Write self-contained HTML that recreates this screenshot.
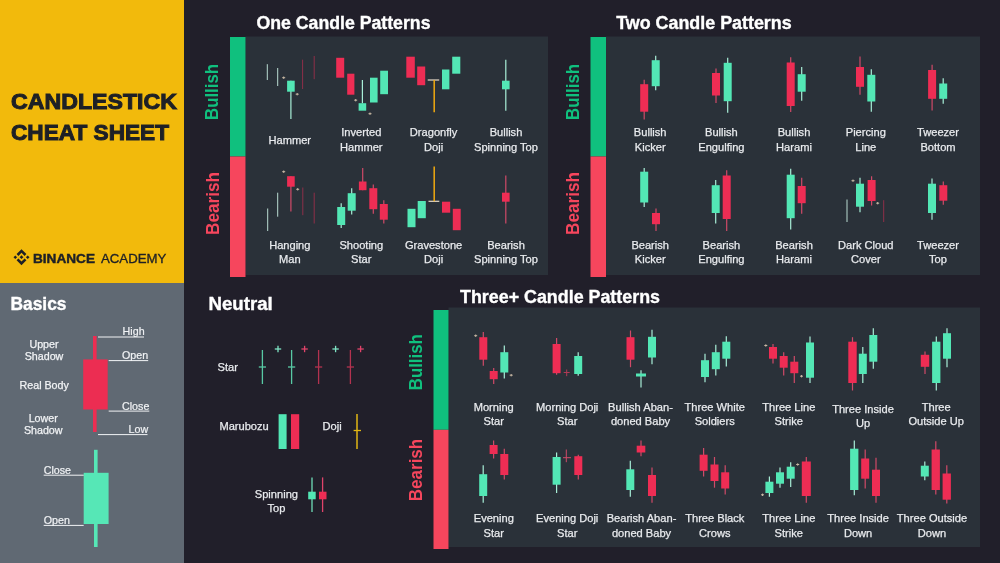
<!DOCTYPE html>
<html lang="en"><head><meta charset="utf-8"><title>Candlestick Cheat Sheet</title>
<style>
html,body{margin:0;padding:0;background:#211F2A;}
body{width:1000px;height:563px;overflow:hidden;}
svg{display:block;font-family:"Liberation Sans",sans-serif;}
</style></head><body>
<svg width="1000" height="563" viewBox="0 0 1000 563">
<rect width="1000" height="563" fill="#211F2A"/>
<rect x="0.0" y="0.0" width="184.0" height="283.0" fill="#F2BA0C" />
<rect x="0.0" y="283.0" width="184.0" height="280.0" fill="#606973" />
<rect x="245.5" y="36.5" width="302.5" height="238.5" fill="#2A3139" />
<rect x="606.0" y="36.5" width="374.0" height="238.5" fill="#2A3139" />
<rect x="448.5" y="307.5" width="531.5" height="239.5" fill="#2A3139" />
<rect x="230.0" y="37.0" width="15.5" height="119.5" fill="#10C07E" />
<rect x="230.0" y="156.5" width="15.5" height="120.5" fill="#F6465D" />
<rect x="590.5" y="37.0" width="15.5" height="119.5" fill="#10C07E" />
<rect x="590.5" y="156.5" width="15.5" height="120.5" fill="#F6465D" />
<rect x="433.5" y="310.0" width="15.0" height="119.8" fill="#10C07E" />
<rect x="433.5" y="429.8" width="15.0" height="119.2" fill="#F6465D" />
<text transform="translate(218.0,92.0) rotate(-90)" font-size="17.5" font-weight="700" fill="#10C07E" text-anchor="middle" textLength="56" lengthAdjust="spacingAndGlyphs">Bullish</text>
<text transform="translate(218.5,203.5) rotate(-90)" font-size="17.5" font-weight="700" fill="#F6465D" text-anchor="middle" textLength="63" lengthAdjust="spacingAndGlyphs">Bearish</text>
<text transform="translate(578.5,92.0) rotate(-90)" font-size="17.5" font-weight="700" fill="#10C07E" text-anchor="middle" textLength="56" lengthAdjust="spacingAndGlyphs">Bullish</text>
<text transform="translate(579.0,203.5) rotate(-90)" font-size="17.5" font-weight="700" fill="#F6465D" text-anchor="middle" textLength="63" lengthAdjust="spacingAndGlyphs">Bearish</text>
<text transform="translate(422.0,362.2) rotate(-90)" font-size="17.5" font-weight="700" fill="#10C07E" text-anchor="middle" textLength="56" lengthAdjust="spacingAndGlyphs">Bullish</text>
<text transform="translate(422.0,470.0) rotate(-90)" font-size="17.5" font-weight="700" fill="#F6465D" text-anchor="middle" textLength="62.5" lengthAdjust="spacingAndGlyphs">Bearish</text>
<text x="256.5" y="29.0" font-size="17.5" font-weight="700" fill="#FFFFFF" stroke="#FFFFFF" stroke-width="0.35" textLength="174" lengthAdjust="spacingAndGlyphs">One Candle Patterns</text>
<text x="616.2" y="29.0" font-size="17.5" font-weight="700" fill="#FFFFFF" stroke="#FFFFFF" stroke-width="0.35" textLength="175.5" lengthAdjust="spacingAndGlyphs">Two Candle Patterns</text>
<text x="460.0" y="303.0" font-size="17.5" font-weight="700" fill="#FFFFFF" stroke="#FFFFFF" stroke-width="0.35" textLength="200" lengthAdjust="spacingAndGlyphs">Three+ Candle Patterns</text>
<text x="208.5" y="310.0" font-size="17.5" font-weight="700" fill="#FFFFFF" stroke="#FFFFFF" stroke-width="0.35" textLength="64.3" lengthAdjust="spacingAndGlyphs">Neutral</text>
<text x="10.5" y="310.0" font-size="17.5" font-weight="700" fill="#FFFFFF" stroke="#FFFFFF" stroke-width="0.35" textLength="56" lengthAdjust="spacingAndGlyphs">Basics</text>
<text x="11" y="109" font-size="22.4" font-weight="700" fill="#1E2026" stroke="#1E2026" stroke-width="1.0" textLength="166" lengthAdjust="spacingAndGlyphs">CANDLESTICK</text>
<text x="11" y="140" font-size="22.4" font-weight="700" fill="#1E2026" stroke="#1E2026" stroke-width="1.0" textLength="158" lengthAdjust="spacingAndGlyphs">CHEAT SHEET</text>
<text x="33" y="262.8" font-size="12" font-weight="700" fill="#1E2026" stroke="#1E2026" stroke-width="0.4" textLength="62" lengthAdjust="spacingAndGlyphs">BINANCE</text>
<text x="101" y="262.8" font-size="12" font-weight="400" fill="#1E2026" stroke="#1E2026" stroke-width="0.3" textLength="65.4" lengthAdjust="spacingAndGlyphs">ACADEMY</text>
<g transform="translate(21.5,257.2)" fill="#1E2026"><path d="M0,-8 L4.9,-3.1 L3.1,-1.3 L0,-4.4 L-3.1,-1.3 L-4.9,-3.1 Z"/><path d="M0,8 L4.9,3.1 L3.1,1.3 L0,4.4 L-3.1,1.3 L-4.9,3.1 Z"/><path d="M0,-1.9 L1.9,0 L0,1.9 L-1.9,0 Z"/><path d="M-6.2,-1.8 L-4.4,0 L-6.2,1.8 L-8,0 Z"/><path d="M6.2,-1.8 L8,0 L6.2,1.8 L4.4,0 Z"/></g>
<line x1="267.3" y1="64.2" x2="267.3" y2="80.0" stroke="#B9DCD2" stroke-width="1" />
<line x1="277.7" y1="68.0" x2="277.7" y2="86.0" stroke="#B9DCD2" stroke-width="1" />
<line x1="282.2" y1="77.7" x2="285.2" y2="77.7" stroke="#C9B9A4" stroke-width="1" />
<line x1="283.7" y1="76.5" x2="283.7" y2="78.9" stroke="#C9B9A4" stroke-width="1" />
<line x1="290.9" y1="80.7" x2="290.9" y2="119.0" stroke="#A8EFD8" stroke-width="1.2" />
<rect x="287.1" y="80.7" width="7.6" height="11.0" fill="#53E7B5" />
<line x1="295.7" y1="94.2" x2="298.7" y2="94.2" stroke="#C9B9A4" stroke-width="1" />
<line x1="297.2" y1="93.0" x2="297.2" y2="95.4" stroke="#C9B9A4" stroke-width="1" />
<line x1="302.6" y1="59.7" x2="302.6" y2="89.0" stroke="#8E2F49" stroke-width="1" />
<line x1="314.2" y1="56.0" x2="314.2" y2="79.2" stroke="#8E2F49" stroke-width="1" />
<rect x="336.2" y="57.8" width="8.0" height="19.9" fill="#EE2D54" />
<rect x="347.2" y="73.7" width="7.2" height="21.0" fill="#EE2D54" />
<line x1="354.2" y1="100.2" x2="357.2" y2="100.2" stroke="#C9B9A4" stroke-width="1" />
<line x1="355.7" y1="99.0" x2="355.7" y2="101.4" stroke="#C9B9A4" stroke-width="1" />
<line x1="362.4" y1="80.0" x2="362.4" y2="103.2" stroke="#A8EFD8" stroke-width="1.2" />
<rect x="358.6" y="103.2" width="7.6" height="7.5" fill="#53E7B5" />
<line x1="368.5" y1="113.7" x2="371.5" y2="113.7" stroke="#C9B9A4" stroke-width="1" />
<line x1="370.0" y1="112.5" x2="370.0" y2="114.9" stroke="#C9B9A4" stroke-width="1" />
<rect x="370.0" y="77.7" width="7.6" height="24.8" fill="#53E7B5" />
<rect x="380.2" y="70.7" width="7.8" height="23.5" fill="#53E7B5" />
<rect x="406.3" y="56.7" width="8.5" height="21.0" fill="#EE2D54" />
<rect x="417.2" y="66.5" width="8.0" height="18.7" fill="#EE2D54" />
<line x1="427.7" y1="80.0" x2="439.2" y2="80.0" stroke="#E8DCC8" stroke-width="1.2" />
<line x1="434.2" y1="80.0" x2="434.2" y2="112.2" stroke="#F0A90F" stroke-width="1.5" />
<rect x="442.0" y="69.5" width="7.4" height="19.8" fill="#53E7B5" />
<rect x="452.2" y="56.7" width="8.1" height="17.0" fill="#53E7B5" />
<line x1="505.8" y1="59.7" x2="505.8" y2="110.7" stroke="#A8EFD8" stroke-width="1.2" />
<rect x="502.0" y="80.7" width="7.6" height="8.6" fill="#53E7B5" />
<line x1="267.7" y1="208.5" x2="267.7" y2="231.0" stroke="#B9DCD2" stroke-width="1" />
<line x1="277.7" y1="192.7" x2="277.7" y2="216.7" stroke="#B9DCD2" stroke-width="1" />
<line x1="282.2" y1="171.7" x2="285.2" y2="171.7" stroke="#C9B9A4" stroke-width="1" />
<line x1="283.7" y1="170.5" x2="283.7" y2="172.9" stroke="#C9B9A4" stroke-width="1" />
<line x1="290.9" y1="176.2" x2="290.9" y2="211.5" stroke="#D04A68" stroke-width="1.2" />
<rect x="287.1" y="176.2" width="7.6" height="10.5" fill="#EE2D54" />
<line x1="296.2" y1="189.3" x2="299.2" y2="189.3" stroke="#C9B9A4" stroke-width="1" />
<line x1="297.7" y1="188.1" x2="297.7" y2="190.5" stroke="#C9B9A4" stroke-width="1" />
<line x1="302.8" y1="187.5" x2="302.8" y2="215.2" stroke="#8E2F49" stroke-width="1" />
<line x1="314.2" y1="192.7" x2="314.2" y2="223.5" stroke="#8E2F49" stroke-width="1" />
<line x1="341.2" y1="203.2" x2="341.2" y2="228.0" stroke="#A8EFD8" stroke-width="1.2" />
<rect x="337.2" y="207.0" width="8.0" height="18.0" fill="#53E7B5" />
<line x1="351.7" y1="188.2" x2="351.7" y2="214.5" stroke="#A8EFD8" stroke-width="1.2" />
<rect x="347.7" y="193.2" width="8.0" height="17.5" fill="#53E7B5" />
<line x1="362.7" y1="168.0" x2="362.7" y2="190.2" stroke="#D04A68" stroke-width="1.2" />
<rect x="358.9" y="181.5" width="7.6" height="8.7" fill="#EE2D54" />
<line x1="373.3" y1="184.5" x2="373.3" y2="213.7" stroke="#D04A68" stroke-width="1.2" />
<rect x="369.3" y="188.2" width="8.0" height="21.0" fill="#EE2D54" />
<line x1="383.8" y1="200.2" x2="383.8" y2="223.5" stroke="#D04A68" stroke-width="1.2" />
<rect x="379.8" y="204.0" width="8.0" height="15.7" fill="#EE2D54" />
<rect x="407.5" y="208.8" width="8.0" height="18.4" fill="#53E7B5" />
<rect x="417.7" y="201.0" width="8.1" height="17.2" fill="#53E7B5" />
<line x1="428.5" y1="201.3" x2="439.3" y2="201.3" stroke="#E8DCC8" stroke-width="1.2" />
<line x1="434.2" y1="166.5" x2="434.2" y2="201.3" stroke="#F0A90F" stroke-width="1.5" />
<rect x="442.0" y="201.7" width="8.2" height="11.0" fill="#EE2D54" />
<rect x="452.8" y="208.8" width="7.9" height="21.4" fill="#EE2D54" />
<line x1="505.8" y1="175.5" x2="505.8" y2="223.5" stroke="#D04A68" stroke-width="1.2" />
<rect x="502.0" y="192.7" width="7.6" height="9.0" fill="#EE2D54" />
<text x="289.8" y="143.6" font-size="11.1" text-anchor="middle" fill="#E9EBEE" font-weight="400" stroke="#E9EBEE" stroke-width="0.25" >Hammer</text>
<text x="361.3" y="135.7" font-size="11.1" text-anchor="middle" fill="#E9EBEE" font-weight="400" stroke="#E9EBEE" stroke-width="0.25" >Inverted</text>
<text x="361.3" y="150.5" font-size="11.1" text-anchor="middle" fill="#E9EBEE" font-weight="400" stroke="#E9EBEE" stroke-width="0.25" >Hammer</text>
<text x="433.6" y="135.7" font-size="11.1" text-anchor="middle" fill="#E9EBEE" font-weight="400" stroke="#E9EBEE" stroke-width="0.25" >Dragonfly</text>
<text x="433.6" y="150.5" font-size="11.1" text-anchor="middle" fill="#E9EBEE" font-weight="400" stroke="#E9EBEE" stroke-width="0.25" >Doji</text>
<text x="506.0" y="135.7" font-size="11.1" text-anchor="middle" fill="#E9EBEE" font-weight="400" stroke="#E9EBEE" stroke-width="0.25" >Bullish</text>
<text x="506.0" y="150.5" font-size="11.1" text-anchor="middle" fill="#E9EBEE" font-weight="400" stroke="#E9EBEE" stroke-width="0.25" >Spinning Top</text>
<text x="289.8" y="248.7" font-size="11.1" text-anchor="middle" fill="#E9EBEE" font-weight="400" stroke="#E9EBEE" stroke-width="0.25" >Hanging</text>
<text x="289.8" y="263.2" font-size="11.1" text-anchor="middle" fill="#E9EBEE" font-weight="400" stroke="#E9EBEE" stroke-width="0.25" >Man</text>
<text x="361.3" y="248.7" font-size="11.1" text-anchor="middle" fill="#E9EBEE" font-weight="400" stroke="#E9EBEE" stroke-width="0.25" >Shooting</text>
<text x="361.3" y="263.2" font-size="11.1" text-anchor="middle" fill="#E9EBEE" font-weight="400" stroke="#E9EBEE" stroke-width="0.25" >Star</text>
<text x="433.6" y="248.7" font-size="11.1" text-anchor="middle" fill="#E9EBEE" font-weight="400" stroke="#E9EBEE" stroke-width="0.25" >Gravestone</text>
<text x="433.6" y="263.2" font-size="11.1" text-anchor="middle" fill="#E9EBEE" font-weight="400" stroke="#E9EBEE" stroke-width="0.25" >Doji</text>
<text x="506.0" y="248.7" font-size="11.1" text-anchor="middle" fill="#E9EBEE" font-weight="400" stroke="#E9EBEE" stroke-width="0.25" >Bearish</text>
<text x="506.0" y="263.2" font-size="11.1" text-anchor="middle" fill="#E9EBEE" font-weight="400" stroke="#E9EBEE" stroke-width="0.25" >Spinning Top</text>
<line x1="644.2" y1="79.7" x2="644.2" y2="119.5" stroke="#D04A68" stroke-width="1.2" />
<rect x="640.2" y="84.2" width="8.0" height="27.5" fill="#EE2D54" />
<line x1="655.7" y1="55.7" x2="655.7" y2="90.2" stroke="#A8EFD8" stroke-width="1.2" />
<rect x="651.7" y="60.2" width="8.0" height="26.0" fill="#53E7B5" />
<line x1="716.0" y1="68.5" x2="716.0" y2="103.0" stroke="#D04A68" stroke-width="1.2" />
<rect x="712.0" y="73.0" width="8.0" height="22.5" fill="#EE2D54" />
<line x1="727.7" y1="57.7" x2="727.7" y2="112.7" stroke="#A8EFD8" stroke-width="1.2" />
<rect x="723.7" y="62.8" width="8.0" height="38.4" fill="#53E7B5" />
<line x1="790.7" y1="57.2" x2="790.7" y2="112.0" stroke="#D04A68" stroke-width="1.2" />
<rect x="786.7" y="62.5" width="8.0" height="43.5" fill="#EE2D54" />
<line x1="801.7" y1="67.0" x2="801.7" y2="100.7" stroke="#A8EFD8" stroke-width="1.2" />
<rect x="797.7" y="74.2" width="8.0" height="17.5" fill="#53E7B5" />
<line x1="860.0" y1="56.5" x2="860.0" y2="94.7" stroke="#D04A68" stroke-width="1.2" />
<rect x="856.0" y="67.0" width="8.0" height="19.8" fill="#EE2D54" />
<line x1="871.3" y1="69.2" x2="871.3" y2="111.7" stroke="#A8EFD8" stroke-width="1.2" />
<rect x="867.3" y="74.8" width="8.0" height="26.7" fill="#53E7B5" />
<line x1="932.1" y1="64.7" x2="932.1" y2="110.5" stroke="#D04A68" stroke-width="1.2" />
<rect x="928.1" y="70.0" width="8.0" height="28.8" fill="#EE2D54" />
<line x1="943.2" y1="78.2" x2="943.2" y2="103.7" stroke="#A8EFD8" stroke-width="1.2" />
<rect x="939.2" y="83.5" width="8.0" height="15.3" fill="#53E7B5" />
<line x1="644.2" y1="168.0" x2="644.2" y2="207.0" stroke="#A8EFD8" stroke-width="1.2" />
<rect x="640.2" y="171.7" width="8.0" height="30.8" fill="#53E7B5" />
<line x1="656.0" y1="208.5" x2="656.0" y2="231.0" stroke="#D04A68" stroke-width="1.2" />
<rect x="652.0" y="213.0" width="8.0" height="11.2" fill="#EE2D54" />
<line x1="715.7" y1="180.0" x2="715.7" y2="223.5" stroke="#A8EFD8" stroke-width="1.2" />
<rect x="711.7" y="185.2" width="8.0" height="27.8" fill="#53E7B5" />
<line x1="726.7" y1="170.2" x2="726.7" y2="231.0" stroke="#D04A68" stroke-width="1.2" />
<rect x="722.7" y="175.5" width="8.0" height="43.5" fill="#EE2D54" />
<line x1="790.7" y1="168.7" x2="790.7" y2="229.5" stroke="#A8EFD8" stroke-width="1.2" />
<rect x="786.7" y="174.7" width="8.0" height="43.5" fill="#53E7B5" />
<line x1="801.7" y1="177.7" x2="801.7" y2="213.7" stroke="#D04A68" stroke-width="1.2" />
<rect x="797.7" y="186.0" width="8.0" height="17.2" fill="#EE2D54" />
<line x1="847.0" y1="199.5" x2="847.0" y2="222.0" stroke="#B9DCD2" stroke-width="1" />
<line x1="851.5" y1="180.7" x2="854.5" y2="180.7" stroke="#C9B9A4" stroke-width="1" />
<line x1="853.0" y1="179.5" x2="853.0" y2="181.9" stroke="#C9B9A4" stroke-width="1" />
<line x1="860.0" y1="177.7" x2="860.0" y2="212.2" stroke="#A8EFD8" stroke-width="1.2" />
<rect x="856.0" y="183.7" width="8.0" height="23.0" fill="#53E7B5" />
<line x1="871.6" y1="176.2" x2="871.6" y2="205.5" stroke="#D04A68" stroke-width="1.2" />
<rect x="867.6" y="180.0" width="8.0" height="21.0" fill="#EE2D54" />
<line x1="876.2" y1="203.2" x2="879.2" y2="203.2" stroke="#C9B9A4" stroke-width="1" />
<line x1="877.7" y1="202.0" x2="877.7" y2="204.4" stroke="#C9B9A4" stroke-width="1" />
<line x1="883.7" y1="200.2" x2="883.7" y2="222.0" stroke="#8E2F49" stroke-width="1" />
<line x1="932.0" y1="178.5" x2="932.0" y2="219.7" stroke="#A8EFD8" stroke-width="1.2" />
<rect x="928.0" y="183.7" width="8.0" height="29.3" fill="#53E7B5" />
<line x1="943.3" y1="181.5" x2="943.3" y2="204.7" stroke="#D04A68" stroke-width="1.2" />
<rect x="939.3" y="185.2" width="8.0" height="15.5" fill="#EE2D54" />
<text x="650.2" y="135.7" font-size="11.1" text-anchor="middle" fill="#E9EBEE" font-weight="400" stroke="#E9EBEE" stroke-width="0.25" >Bullish</text>
<text x="650.2" y="150.5" font-size="11.1" text-anchor="middle" fill="#E9EBEE" font-weight="400" stroke="#E9EBEE" stroke-width="0.25" >Kicker</text>
<text x="721.4" y="135.7" font-size="11.1" text-anchor="middle" fill="#E9EBEE" font-weight="400" stroke="#E9EBEE" stroke-width="0.25" >Bullish</text>
<text x="721.4" y="150.5" font-size="11.1" text-anchor="middle" fill="#E9EBEE" font-weight="400" stroke="#E9EBEE" stroke-width="0.25" >Engulfing</text>
<text x="794.0" y="135.7" font-size="11.1" text-anchor="middle" fill="#E9EBEE" font-weight="400" stroke="#E9EBEE" stroke-width="0.25" >Bullish</text>
<text x="794.0" y="150.5" font-size="11.1" text-anchor="middle" fill="#E9EBEE" font-weight="400" stroke="#E9EBEE" stroke-width="0.25" >Harami</text>
<text x="865.8" y="135.7" font-size="11.1" text-anchor="middle" fill="#E9EBEE" font-weight="400" stroke="#E9EBEE" stroke-width="0.25" >Piercing</text>
<text x="865.8" y="150.5" font-size="11.1" text-anchor="middle" fill="#E9EBEE" font-weight="400" stroke="#E9EBEE" stroke-width="0.25" >Line</text>
<text x="938.0" y="135.7" font-size="11.1" text-anchor="middle" fill="#E9EBEE" font-weight="400" stroke="#E9EBEE" stroke-width="0.25" >Tweezer</text>
<text x="938.0" y="150.5" font-size="11.1" text-anchor="middle" fill="#E9EBEE" font-weight="400" stroke="#E9EBEE" stroke-width="0.25" >Bottom</text>
<text x="650.2" y="248.7" font-size="11.1" text-anchor="middle" fill="#E9EBEE" font-weight="400" stroke="#E9EBEE" stroke-width="0.25" >Bearish</text>
<text x="650.2" y="263.2" font-size="11.1" text-anchor="middle" fill="#E9EBEE" font-weight="400" stroke="#E9EBEE" stroke-width="0.25" >Kicker</text>
<text x="721.4" y="248.7" font-size="11.1" text-anchor="middle" fill="#E9EBEE" font-weight="400" stroke="#E9EBEE" stroke-width="0.25" >Bearish</text>
<text x="721.4" y="263.2" font-size="11.1" text-anchor="middle" fill="#E9EBEE" font-weight="400" stroke="#E9EBEE" stroke-width="0.25" >Engulfing</text>
<text x="794.0" y="248.7" font-size="11.1" text-anchor="middle" fill="#E9EBEE" font-weight="400" stroke="#E9EBEE" stroke-width="0.25" >Bearish</text>
<text x="794.0" y="263.2" font-size="11.1" text-anchor="middle" fill="#E9EBEE" font-weight="400" stroke="#E9EBEE" stroke-width="0.25" >Harami</text>
<text x="865.8" y="248.7" font-size="11.1" text-anchor="middle" fill="#E9EBEE" font-weight="400" stroke="#E9EBEE" stroke-width="0.25" >Dark Cloud</text>
<text x="865.8" y="263.2" font-size="11.1" text-anchor="middle" fill="#E9EBEE" font-weight="400" stroke="#E9EBEE" stroke-width="0.25" >Cover</text>
<text x="938.0" y="248.7" font-size="11.1" text-anchor="middle" fill="#E9EBEE" font-weight="400" stroke="#E9EBEE" stroke-width="0.25" >Tweezer</text>
<text x="938.0" y="263.2" font-size="11.1" text-anchor="middle" fill="#E9EBEE" font-weight="400" stroke="#E9EBEE" stroke-width="0.25" >Top</text>
<line x1="474.2" y1="335.7" x2="477.2" y2="335.7" stroke="#C9B9A4" stroke-width="1" />
<line x1="475.7" y1="334.5" x2="475.7" y2="336.9" stroke="#C9B9A4" stroke-width="1" />
<line x1="483.3" y1="332.0" x2="483.3" y2="365.7" stroke="#D04A68" stroke-width="1.2" />
<rect x="479.3" y="337.2" width="8.0" height="22.5" fill="#EE2D54" />
<line x1="493.7" y1="368.0" x2="493.7" y2="384.0" stroke="#D04A68" stroke-width="1.2" />
<rect x="489.7" y="371.0" width="8.0" height="8.2" fill="#EE2D54" />
<line x1="504.3" y1="345.5" x2="504.3" y2="378.5" stroke="#A8EFD8" stroke-width="1.2" />
<rect x="500.3" y="352.2" width="8.0" height="20.3" fill="#53E7B5" />
<line x1="509.7" y1="375.2" x2="512.7" y2="375.2" stroke="#C9B9A4" stroke-width="1" />
<line x1="511.2" y1="374.0" x2="511.2" y2="376.4" stroke="#C9B9A4" stroke-width="1" />
<line x1="556.6" y1="338.0" x2="556.6" y2="374.7" stroke="#D04A68" stroke-width="1.2" />
<rect x="552.6" y="344.0" width="8.0" height="29.2" fill="#EE2D54" />
<line x1="563.7" y1="372.5" x2="569.7" y2="372.5" stroke="#B03A55" stroke-width="1" />
<line x1="566.7" y1="369.5" x2="566.7" y2="376.2" stroke="#B03A55" stroke-width="1" />
<line x1="578.2" y1="352.2" x2="578.2" y2="375.8" stroke="#A8EFD8" stroke-width="1.2" />
<rect x="574.2" y="356.0" width="8.0" height="18.0" fill="#53E7B5" />
<line x1="630.5" y1="330.5" x2="630.5" y2="367.2" stroke="#D04A68" stroke-width="1.2" />
<rect x="626.5" y="337.2" width="8.0" height="22.5" fill="#EE2D54" />
<line x1="641.0" y1="370.2" x2="641.0" y2="387.5" stroke="#A8EFD8" stroke-width="1.2" />
<rect x="636.0" y="373.5" width="10.0" height="3.0" fill="#53E7B5" />
<line x1="652.0" y1="329.7" x2="652.0" y2="364.2" stroke="#A8EFD8" stroke-width="1.2" />
<rect x="648.0" y="336.8" width="8.0" height="20.7" fill="#53E7B5" />
<line x1="705.0" y1="353.7" x2="705.0" y2="382.2" stroke="#A8EFD8" stroke-width="1.2" />
<rect x="701.0" y="360.2" width="8.0" height="16.8" fill="#53E7B5" />
<line x1="715.8" y1="344.7" x2="715.8" y2="375.5" stroke="#A8EFD8" stroke-width="1.2" />
<rect x="711.8" y="352.2" width="8.0" height="17.0" fill="#53E7B5" />
<line x1="726.3" y1="336.2" x2="726.3" y2="366.5" stroke="#A8EFD8" stroke-width="1.2" />
<rect x="722.3" y="341.7" width="8.0" height="17.0" fill="#53E7B5" />
<line x1="764.3" y1="345.5" x2="767.3" y2="345.5" stroke="#C9B9A4" stroke-width="1" />
<line x1="765.8" y1="344.3" x2="765.8" y2="346.7" stroke="#C9B9A4" stroke-width="1" />
<line x1="773.0" y1="344.0" x2="773.0" y2="363.5" stroke="#D04A68" stroke-width="1.2" />
<rect x="769.0" y="347.0" width="8.0" height="11.7" fill="#EE2D54" />
<line x1="783.7" y1="352.2" x2="783.7" y2="375.5" stroke="#D04A68" stroke-width="1.2" />
<rect x="779.7" y="356.0" width="8.0" height="11.7" fill="#EE2D54" />
<line x1="794.3" y1="356.0" x2="794.3" y2="383.0" stroke="#D04A68" stroke-width="1.2" />
<rect x="790.3" y="361.7" width="8.0" height="11.5" fill="#EE2D54" />
<line x1="800.0" y1="376.2" x2="803.0" y2="376.2" stroke="#C9B9A4" stroke-width="1" />
<line x1="801.5" y1="375.0" x2="801.5" y2="377.4" stroke="#C9B9A4" stroke-width="1" />
<line x1="810.0" y1="336.5" x2="810.0" y2="383.0" stroke="#A8EFD8" stroke-width="1.2" />
<rect x="806.0" y="342.5" width="8.0" height="35.2" fill="#53E7B5" />
<line x1="852.5" y1="337.2" x2="852.5" y2="390.5" stroke="#D04A68" stroke-width="1.2" />
<rect x="848.3" y="341.7" width="8.4" height="41.3" fill="#EE2D54" />
<line x1="862.8" y1="347.0" x2="862.8" y2="383.0" stroke="#A8EFD8" stroke-width="1.2" />
<rect x="858.8" y="353.7" width="8.0" height="20.3" fill="#53E7B5" />
<line x1="873.3" y1="328.2" x2="873.3" y2="368.7" stroke="#A8EFD8" stroke-width="1.2" />
<rect x="869.3" y="335.0" width="8.0" height="26.7" fill="#53E7B5" />
<line x1="925.0" y1="351.5" x2="925.0" y2="374.0" stroke="#D04A68" stroke-width="1.2" />
<rect x="920.8" y="354.8" width="8.4" height="12.0" fill="#EE2D54" />
<line x1="936.3" y1="336.5" x2="936.3" y2="390.5" stroke="#A8EFD8" stroke-width="1.2" />
<rect x="932.1" y="341.7" width="8.3" height="41.3" fill="#53E7B5" />
<line x1="947.0" y1="328.2" x2="947.0" y2="367.2" stroke="#A8EFD8" stroke-width="1.2" />
<rect x="943.0" y="333.2" width="8.0" height="25.5" fill="#53E7B5" />
<line x1="483.2" y1="465.2" x2="483.2" y2="502.7" stroke="#A8EFD8" stroke-width="1.2" />
<rect x="479.2" y="474.2" width="8.0" height="21.8" fill="#53E7B5" />
<line x1="493.6" y1="440.5" x2="493.6" y2="458.5" stroke="#D04A68" stroke-width="1.2" />
<rect x="489.6" y="445.0" width="8.0" height="9.0" fill="#EE2D54" />
<line x1="504.3" y1="448.7" x2="504.3" y2="479.5" stroke="#D04A68" stroke-width="1.2" />
<rect x="500.3" y="454.0" width="8.0" height="21.0" fill="#EE2D54" />
<line x1="556.6" y1="452.5" x2="556.6" y2="493.0" stroke="#A8EFD8" stroke-width="1.2" />
<rect x="552.6" y="457.0" width="8.0" height="27.7" fill="#53E7B5" />
<line x1="563.0" y1="457.7" x2="571.0" y2="457.7" stroke="#D04A68" stroke-width="1" />
<line x1="566.3" y1="449.5" x2="566.3" y2="462.2" stroke="#D04A68" stroke-width="1" />
<line x1="578.3" y1="454.7" x2="578.3" y2="479.5" stroke="#D04A68" stroke-width="1.2" />
<rect x="574.3" y="456.2" width="8.0" height="18.8" fill="#EE2D54" />
<line x1="630.3" y1="460.7" x2="630.3" y2="496.7" stroke="#A8EFD8" stroke-width="1.2" />
<rect x="626.3" y="469.3" width="8.0" height="20.7" fill="#53E7B5" />
<line x1="641.0" y1="440.5" x2="641.0" y2="456.2" stroke="#D04A68" stroke-width="1.2" />
<rect x="636.7" y="445.7" width="8.6" height="6.8" fill="#EE2D54" />
<line x1="652.0" y1="467.5" x2="652.0" y2="502.7" stroke="#D04A68" stroke-width="1.2" />
<rect x="648.0" y="475.0" width="8.0" height="21.0" fill="#EE2D54" />
<line x1="703.6" y1="448.0" x2="703.6" y2="476.5" stroke="#D04A68" stroke-width="1.2" />
<rect x="699.6" y="454.7" width="8.0" height="16.1" fill="#EE2D54" />
<line x1="714.5" y1="457.0" x2="714.5" y2="487.7" stroke="#D04A68" stroke-width="1.2" />
<rect x="710.5" y="464.5" width="8.0" height="16.5" fill="#EE2D54" />
<line x1="725.2" y1="465.2" x2="725.2" y2="494.5" stroke="#D04A68" stroke-width="1.2" />
<rect x="721.2" y="472.3" width="8.0" height="16.2" fill="#EE2D54" />
<line x1="761.0" y1="494.8" x2="764.0" y2="494.8" stroke="#C9B9A4" stroke-width="1" />
<line x1="762.5" y1="493.6" x2="762.5" y2="496.0" stroke="#C9B9A4" stroke-width="1" />
<line x1="769.4" y1="476.5" x2="769.4" y2="496.7" stroke="#A8EFD8" stroke-width="1.2" />
<rect x="765.4" y="481.7" width="8.0" height="11.3" fill="#53E7B5" />
<line x1="780.0" y1="467.5" x2="780.0" y2="487.7" stroke="#A8EFD8" stroke-width="1.2" />
<rect x="776.0" y="472.3" width="8.0" height="11.4" fill="#53E7B5" />
<line x1="790.7" y1="462.2" x2="790.7" y2="487.0" stroke="#A8EFD8" stroke-width="1.2" />
<rect x="786.7" y="466.7" width="8.0" height="12.0" fill="#53E7B5" />
<line x1="796.2" y1="464.5" x2="799.2" y2="464.5" stroke="#C9B9A4" stroke-width="1" />
<line x1="797.7" y1="463.3" x2="797.7" y2="465.7" stroke="#C9B9A4" stroke-width="1" />
<line x1="806.3" y1="457.0" x2="806.3" y2="502.7" stroke="#D04A68" stroke-width="1.2" />
<rect x="801.8" y="461.5" width="9.0" height="34.5" fill="#EE2D54" />
<line x1="854.3" y1="440.5" x2="854.3" y2="495.2" stroke="#A8EFD8" stroke-width="1.2" />
<rect x="850.1" y="448.7" width="8.3" height="41.3" fill="#53E7B5" />
<line x1="865.2" y1="449.5" x2="865.2" y2="488.5" stroke="#D04A68" stroke-width="1.2" />
<rect x="861.2" y="458.5" width="8.0" height="20.2" fill="#EE2D54" />
<line x1="876.0" y1="457.7" x2="876.0" y2="502.7" stroke="#D04A68" stroke-width="1.2" />
<rect x="872.0" y="469.7" width="8.0" height="26.3" fill="#EE2D54" />
<line x1="924.8" y1="461.5" x2="924.8" y2="480.2" stroke="#A8EFD8" stroke-width="1.2" />
<rect x="920.8" y="465.7" width="8.0" height="10.8" fill="#53E7B5" />
<line x1="935.8" y1="441.2" x2="935.8" y2="494.5" stroke="#D04A68" stroke-width="1.2" />
<rect x="931.6" y="449.5" width="8.3" height="40.5" fill="#EE2D54" />
<line x1="946.8" y1="465.2" x2="946.8" y2="503.5" stroke="#D04A68" stroke-width="1.2" />
<rect x="942.6" y="473.5" width="8.3" height="26.2" fill="#EE2D54" />
<text x="493.7" y="411.2" font-size="11.1" text-anchor="middle" fill="#E9EBEE" font-weight="400" stroke="#E9EBEE" stroke-width="0.25" >Morning</text>
<text x="493.7" y="425.1" font-size="11.1" text-anchor="middle" fill="#E9EBEE" font-weight="400" stroke="#E9EBEE" stroke-width="0.25" >Star</text>
<text x="567.2" y="411.2" font-size="11.1" text-anchor="middle" fill="#E9EBEE" font-weight="400" stroke="#E9EBEE" stroke-width="0.25" >Morning Doji</text>
<text x="567.2" y="425.1" font-size="11.1" text-anchor="middle" fill="#E9EBEE" font-weight="400" stroke="#E9EBEE" stroke-width="0.25" >Star</text>
<text x="640.5" y="411.2" font-size="11.1" text-anchor="middle" fill="#E9EBEE" font-weight="400" stroke="#E9EBEE" stroke-width="0.25" >Bullish Aban-</text>
<text x="640.5" y="425.1" font-size="11.1" text-anchor="middle" fill="#E9EBEE" font-weight="400" stroke="#E9EBEE" stroke-width="0.25" >doned Baby</text>
<text x="714.7" y="411.2" font-size="11.1" text-anchor="middle" fill="#E9EBEE" font-weight="400" stroke="#E9EBEE" stroke-width="0.25" >Three White</text>
<text x="714.7" y="425.1" font-size="11.1" text-anchor="middle" fill="#E9EBEE" font-weight="400" stroke="#E9EBEE" stroke-width="0.25" >Soldiers</text>
<text x="788.8" y="411.2" font-size="11.1" text-anchor="middle" fill="#E9EBEE" font-weight="400" stroke="#E9EBEE" stroke-width="0.25" >Three Line</text>
<text x="788.8" y="425.1" font-size="11.1" text-anchor="middle" fill="#E9EBEE" font-weight="400" stroke="#E9EBEE" stroke-width="0.25" >Strike</text>
<text x="863.0" y="412.6" font-size="11.1" text-anchor="middle" fill="#E9EBEE" font-weight="400" stroke="#E9EBEE" stroke-width="0.25" >Three Inside</text>
<text x="863.0" y="426.9" font-size="11.1" text-anchor="middle" fill="#E9EBEE" font-weight="400" stroke="#E9EBEE" stroke-width="0.25" >Up</text>
<text x="936.2" y="411.2" font-size="11.1" text-anchor="middle" fill="#E9EBEE" font-weight="400" stroke="#E9EBEE" stroke-width="0.25" >Three</text>
<text x="936.2" y="425.1" font-size="11.1" text-anchor="middle" fill="#E9EBEE" font-weight="400" stroke="#E9EBEE" stroke-width="0.25" >Outside Up</text>
<text x="493.8" y="522.3" font-size="11.1" text-anchor="middle" fill="#E9EBEE" font-weight="400" stroke="#E9EBEE" stroke-width="0.25" >Evening</text>
<text x="493.8" y="536.5" font-size="11.1" text-anchor="middle" fill="#E9EBEE" font-weight="400" stroke="#E9EBEE" stroke-width="0.25" >Star</text>
<text x="567.2" y="522.3" font-size="11.1" text-anchor="middle" fill="#E9EBEE" font-weight="400" stroke="#E9EBEE" stroke-width="0.25" >Evening Doji</text>
<text x="567.2" y="536.5" font-size="11.1" text-anchor="middle" fill="#E9EBEE" font-weight="400" stroke="#E9EBEE" stroke-width="0.25" >Star</text>
<text x="641.5" y="522.3" font-size="11.1" text-anchor="middle" fill="#E9EBEE" font-weight="400" stroke="#E9EBEE" stroke-width="0.25" >Bearish Aban-</text>
<text x="641.5" y="536.5" font-size="11.1" text-anchor="middle" fill="#E9EBEE" font-weight="400" stroke="#E9EBEE" stroke-width="0.25" >doned Baby</text>
<text x="714.8" y="522.3" font-size="11.1" text-anchor="middle" fill="#E9EBEE" font-weight="400" stroke="#E9EBEE" stroke-width="0.25" >Three Black</text>
<text x="714.8" y="536.5" font-size="11.1" text-anchor="middle" fill="#E9EBEE" font-weight="400" stroke="#E9EBEE" stroke-width="0.25" >Crows</text>
<text x="788.8" y="522.3" font-size="11.1" text-anchor="middle" fill="#E9EBEE" font-weight="400" stroke="#E9EBEE" stroke-width="0.25" >Three Line</text>
<text x="788.8" y="536.5" font-size="11.1" text-anchor="middle" fill="#E9EBEE" font-weight="400" stroke="#E9EBEE" stroke-width="0.25" >Strike</text>
<text x="858.1" y="522.3" font-size="11.1" text-anchor="middle" fill="#E9EBEE" font-weight="400" stroke="#E9EBEE" stroke-width="0.25" >Three Inside</text>
<text x="858.1" y="536.5" font-size="11.1" text-anchor="middle" fill="#E9EBEE" font-weight="400" stroke="#E9EBEE" stroke-width="0.25" >Down</text>
<text x="932.0" y="522.3" font-size="11.1" text-anchor="middle" fill="#E9EBEE" font-weight="400" stroke="#E9EBEE" stroke-width="0.25" >Three Outside</text>
<text x="932.0" y="536.5" font-size="11.1" text-anchor="middle" fill="#E9EBEE" font-weight="400" stroke="#E9EBEE" stroke-width="0.25" >Down</text>
<text x="217.6" y="371.0" font-size="11.1" text-anchor="start" fill="#E9EBEE" font-weight="400" stroke="#E9EBEE" stroke-width="0.25" >Star</text>
<line x1="262.4" y1="350.0" x2="262.4" y2="384.0" stroke="#58C9A4" stroke-width="1.3" />
<line x1="258.8" y1="367.0" x2="266.0" y2="367.0" stroke="#58C9A4" stroke-width="1.3" />
<line x1="291.6" y1="350.0" x2="291.6" y2="384.0" stroke="#58C9A4" stroke-width="1.3" />
<line x1="288.0" y1="367.0" x2="295.2" y2="367.0" stroke="#58C9A4" stroke-width="1.3" />
<line x1="318.6" y1="350.0" x2="318.6" y2="384.0" stroke="#B3324F" stroke-width="1.3" />
<line x1="315.0" y1="367.0" x2="322.2" y2="367.0" stroke="#B3324F" stroke-width="1.3" />
<line x1="350.4" y1="350.0" x2="350.4" y2="384.0" stroke="#B3324F" stroke-width="1.3" />
<line x1="346.8" y1="367.0" x2="354.0" y2="367.0" stroke="#B3324F" stroke-width="1.3" />
<line x1="274.8" y1="349.0" x2="281.2" y2="349.0" stroke="#7FE3C4" stroke-width="1.3" />
<line x1="278.0" y1="345.8" x2="278.0" y2="352.2" stroke="#7FE3C4" stroke-width="1.3" />
<line x1="301.4" y1="349.0" x2="307.8" y2="349.0" stroke="#E0436A" stroke-width="1.3" />
<line x1="304.6" y1="345.8" x2="304.6" y2="352.2" stroke="#E0436A" stroke-width="1.3" />
<line x1="332.4" y1="349.0" x2="338.8" y2="349.0" stroke="#7FE3C4" stroke-width="1.3" />
<line x1="335.6" y1="345.8" x2="335.6" y2="352.2" stroke="#7FE3C4" stroke-width="1.3" />
<line x1="357.4" y1="349.0" x2="363.8" y2="349.0" stroke="#E0436A" stroke-width="1.3" />
<line x1="360.6" y1="345.8" x2="360.6" y2="352.2" stroke="#E0436A" stroke-width="1.3" />
<text x="219.4" y="430.0" font-size="11.1" text-anchor="start" fill="#E9EBEE" font-weight="400" stroke="#E9EBEE" stroke-width="0.25" >Marubozu</text>
<rect x="278.6" y="414.2" width="8.0" height="34.8" fill="#53E7B5" />
<rect x="291.0" y="414.2" width="8.2" height="34.8" fill="#EE2D54" />
<text x="322.6" y="430.0" font-size="11.1" text-anchor="start" fill="#E9EBEE" font-weight="400" stroke="#E9EBEE" stroke-width="0.25" >Doji</text>
<line x1="357.0" y1="414.0" x2="357.0" y2="449.0" stroke="#E2B714" stroke-width="1.5" />
<line x1="353.6" y1="430.5" x2="361.0" y2="430.5" stroke="#E2B714" stroke-width="1.3" />
<text x="276.4" y="498.2" font-size="11.1" text-anchor="middle" fill="#E9EBEE" font-weight="400" stroke="#E9EBEE" stroke-width="0.25" >Spinning</text>
<text x="276.4" y="511.7" font-size="11.1" text-anchor="middle" fill="#E9EBEE" font-weight="400" stroke="#E9EBEE" stroke-width="0.25" >Top</text>
<line x1="312.0" y1="477.4" x2="312.0" y2="512.0" stroke="#6FDDB9" stroke-width="1.3" />
<rect x="308.2" y="491.7" width="7.5" height="7.6" fill="#53E7B5" />
<line x1="322.6" y1="477.4" x2="322.6" y2="512.0" stroke="#E0436A" stroke-width="1.3" />
<rect x="319.0" y="491.7" width="7.5" height="7.6" fill="#EE2D54" />
<rect x="93.0" y="336.0" width="3.6" height="96.0" fill="#EC2D52" />
<rect x="83.2" y="359.4" width="24.5" height="50.1" fill="#EC2D52" />
<rect x="94.0" y="449.8" width="3.6" height="97.2" fill="#56E7B6" />
<rect x="83.7" y="472.8" width="24.9" height="51.2" fill="#56E7B6" />
<text x="44.0" y="347.7" font-size="10.7" text-anchor="middle" fill="#F1F3F5" font-weight="400" stroke="#F1F3F5" stroke-width="0.25" >Upper</text>
<text x="44.0" y="359.5" font-size="10.7" text-anchor="middle" fill="#F1F3F5" font-weight="400" stroke="#F1F3F5" stroke-width="0.25" >Shadow</text>
<text x="44.2" y="389.3" font-size="10.7" text-anchor="middle" fill="#F1F3F5" font-weight="400" stroke="#F1F3F5" stroke-width="0.25" >Real Body</text>
<text x="43.2" y="422.0" font-size="10.7" text-anchor="middle" fill="#F1F3F5" font-weight="400" stroke="#F1F3F5" stroke-width="0.25" >Lower</text>
<text x="43.2" y="434.0" font-size="10.7" text-anchor="middle" fill="#F1F3F5" font-weight="400" stroke="#F1F3F5" stroke-width="0.25" >Shadow</text>
<text x="122.6" y="335.4" font-size="10.7" fill="#F1F3F5" stroke="#F1F3F5" stroke-width="0.2">High</text>
<line x1="98.0" y1="337.0" x2="144.0" y2="337.0" stroke="#F1F3F5" stroke-width="1" />
<text x="122" y="359" font-size="10.7" fill="#F1F3F5" stroke="#F1F3F5" stroke-width="0.2">Open</text>
<line x1="108.7" y1="360.6" x2="148.2" y2="360.6" stroke="#F1F3F5" stroke-width="1" />
<text x="122" y="409.5" font-size="10.7" fill="#F1F3F5" stroke="#F1F3F5" stroke-width="0.2">Close</text>
<line x1="108.7" y1="411.1" x2="149.3" y2="411.1" stroke="#F1F3F5" stroke-width="1" />
<text x="128.6" y="433" font-size="10.7" fill="#F1F3F5" stroke="#F1F3F5" stroke-width="0.2">Low</text>
<line x1="98.0" y1="434.6" x2="147.5" y2="434.6" stroke="#F1F3F5" stroke-width="1" />
<text x="43.7" y="473.6" font-size="10.7" fill="#F1F3F5" stroke="#F1F3F5" stroke-width="0.2">Close</text>
<line x1="43.7" y1="475.2" x2="83.7" y2="475.2" stroke="#F1F3F5" stroke-width="1" />
<text x="43.7" y="523.8" font-size="10.7" fill="#F1F3F5" stroke="#F1F3F5" stroke-width="0.2">Open</text>
<line x1="43.7" y1="525.4" x2="83.7" y2="525.4" stroke="#F1F3F5" stroke-width="1" />
</svg>
</body></html>
